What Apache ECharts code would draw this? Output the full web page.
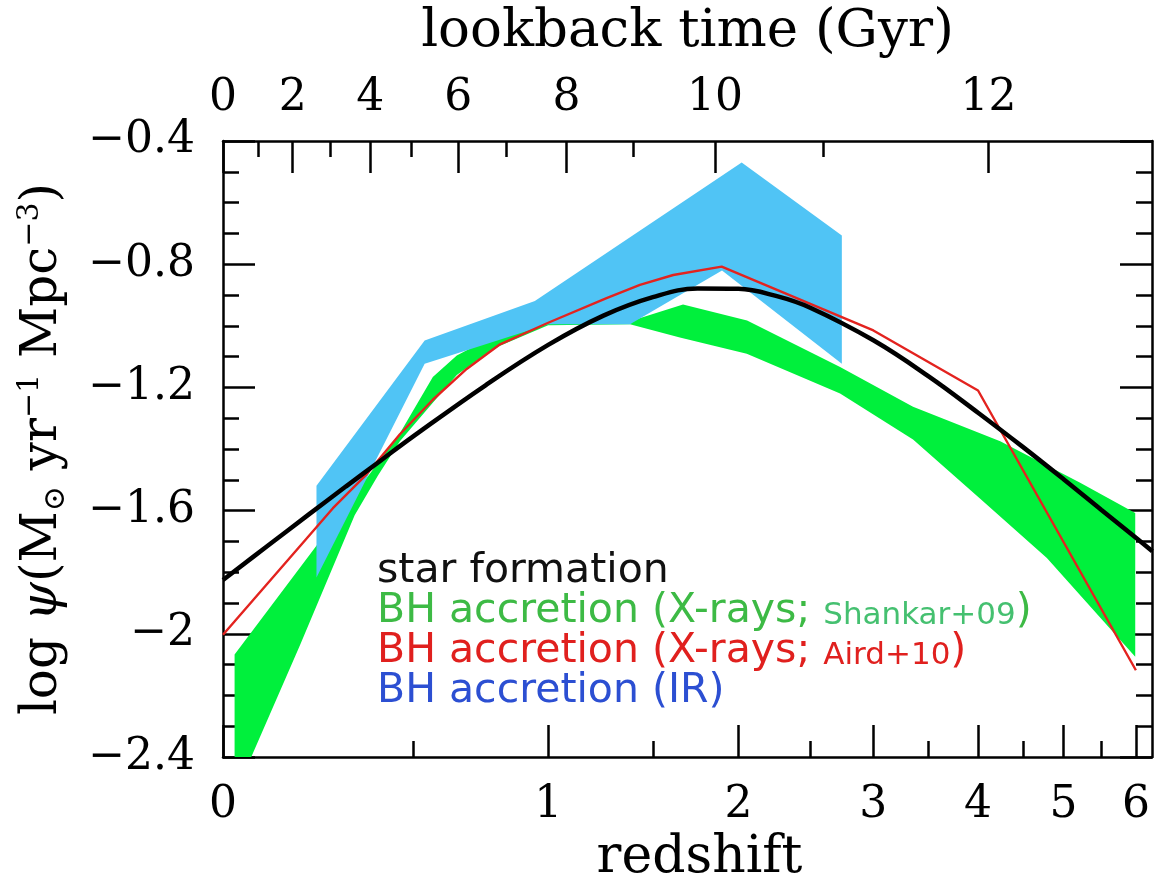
<!DOCTYPE html>
<html>
<head>
<meta charset="utf-8">
<script src="https://cdn.jsdelivr.net/npm/echarts@6/dist/echarts.min.js"></script>
<style>
html,body{margin:0;padding:0;background:#fff;}
#chart{width:1157px;height:889px;}
</style>
</head>
<body>
<div id="chart"></div>
<script>
// ---------- tick definitions ----------
const redshiftTicks = [0, 1, 2, 3, 4, 5, 6];
const redshiftMinorTicks = [0.5, 1.5, 2.5, 3.5, 4.5, 5.5];
const lookbackTickLabels = ['0', '2', '4', '6', '8', '10', '12'];
const lookbackTickZ = [0, 0.160, 0.369, 0.651, 1.080, 1.854, 4.112];
const lookbackMinorTickZ = [0.0775, 0.256, 0.495, 0.830, 1.398, 2.596];
const yTickValues = [-2.4, -2.0, -1.6, -1.2, -0.8, -0.4];
const yTickLabels = ['\u22122.4', '\u22122', '\u22121.6', '\u22121.2', '\u22120.8', '\u22120.4'];

// ---------- star formation (black curve) ----------
const starZ = [0, 0.1, 0.2, 0.3, 0.4, 0.5, 0.75, 1, 1.25, 1.5, 1.75, 2, 2.25, 2.5, 3, 3.5, 4, 4.5, 5, 5.5, 6, 6.25];
const starLogPsi = [-1.825, -1.714, -1.613, -1.521, -1.437, -1.359, -1.193, -1.062, -0.967, -0.907, -0.879, -0.880, -0.903, -0.942, -1.047, -1.164, -1.282, -1.393, -1.498, -1.597, -1.688, -1.732];

// ---------- BH accretion, X-rays, Aird+10 (red line) ----------
const airdZ = [0, 0.264, 0.358, 0.458, 0.564, 0.681, 0.805, 1.0, 1.265, 1.432, 1.611, 1.895, 3.0, 4.0, 6.0];
const airdLogPsi = [-2.003, -1.592, -1.482, -1.352, -1.240, -1.140, -1.060, -0.990, -0.910, -0.867, -0.835, -0.808, -1.015, -1.210, -2.118];

// ---------- BH accretion, X-rays, Shankar+09 (green band) ----------
const shankarUpperZ = [0.025, 0.216, 0.458, 0.564, 0.646, 0.754, 0.965, 1.381, 1.666, 2.056, 2.726, 3.353, 4.242, 5.216, 5.99];
const shankarUpper = [-2.067, -1.721, -1.349, -1.166, -1.096, -1.045, -0.960, -0.985, -0.931, -0.983, -1.134, -1.263, -1.375, -1.509, -1.608];
const shankarLowerZ = [5.99, 4.79, 4.023, 3.353, 2.726, 2.054, 1.648, 1.381, 1.0, 0.805, 0.754, 0.646, 0.564, 0.458, 0.391, 0.324, 0.178, 0.062, 0.025];
const shankarLower = [-2.074, -1.754, -1.561, -1.369, -1.220, -1.091, -1.038, -0.995, -0.998, -1.065, -1.090, -1.160, -1.250, -1.375, -1.487, -1.615, -2.038, -2.400, -2.400];

// ---------- BH accretion, IR (blue band) ----------
const irUpperZ = [0.2205, 0.537, 0.944, 2.021, 2.740];
const irUpper = [-1.519, -1.048, -0.919, -0.470, -0.707];
const irLowerZ = [2.740, 1.897, 1.381, 1.0, 0.537, 0.2205];
const irLower = [-1.123, -0.820, -0.995, -0.995, -1.123, -1.817];

// ---------- helpers ----------
const toX = z => Math.log10(1 + z);
const pairs = (zs, vs) => zs.map((z, i) => [toX(z), vs[i]]);
const nearestIndex = (arr, v) => {
  let best = 0, d = Infinity;
  arr.forEach((a, i) => { const dd = Math.abs(a - v); if (dd < d) { d = dd; best = i; } });
  return best;
};

const SERIF = "'DejaVu Serif', 'Liberation Serif', serif";
const SANS = "'DejaVu Sans', 'Noto Sans', sans-serif";
const X_MAX = 0.86;

function bandSeries(name, upperZ, upper, lowerZ, lower, color, z) {
  const poly = pairs(upperZ, upper).concat(pairs(lowerZ, lower));
  return {
    type: 'custom',
    name: name,
    xAxisIndex: 0,
    yAxisIndex: 0,
    z: z,
    clip: true,
    silent: true,
    data: poly,
    encode: { x: 0, y: 1 },
    renderItem: function (params, api) {
      if (params.dataIndex !== 0) return null;
      const points = poly.map(p => api.coord(p));
      return {
        type: 'polygon',
        shape: { points: points },
        style: { fill: color, stroke: null }
      };
    }
  };
}

const axisLineStyle = { color: '#000', width: 2.5 };
const legendBase = { fontFamily: SANS, fontWeight: 'normal', fontSize: 41, lineHeight: 40, verticalAlign: 'middle' };
const legendSmall = { fontFamily: SANS, fontWeight: 'normal', fontSize: 31, lineHeight: 34, verticalAlign: 'bottom' };

const option = {
  animation: false,
  backgroundColor: '#fff',
  grid: { left: 223, right: 5, top: 141, bottom: 124, containLabel: false },
  title: {
    left: 377,
    top: 551,
    padding: 0,
    text: '{k|star formation}\n' +
          '{g|BH accretion (X-rays; }{gs|Shankar+09}{g|)}\n' +
          '{r|BH accretion (X-rays; }{rs|Aird+10}{r|)}\n' +
          '{b|BH accretion (IR)}',
    textStyle: {
      fontWeight: 'normal',
      rich: {
        k: Object.assign({}, legendBase, { color: '#111111' }),
        g: Object.assign({}, legendBase, { color: '#3dba45' }),
        gs: Object.assign({}, legendSmall, { color: '#45c070' }),
        r: Object.assign({}, legendBase, { color: '#e0201e' }),
        rs: Object.assign({}, legendSmall, { color: '#e0201e' }),
        b: Object.assign({}, legendBase, { color: '#2c4fd2' })
      }
    }
  },
  xAxis: [
    { // bottom: redshift, major ticks + labels
      type: 'value', position: 'bottom', min: 0, max: X_MAX, gridIndex: 0,
      name: 'redshift', nameLocation: 'middle', nameGap: 64,
      nameTextStyle: { fontFamily: SERIF, fontSize: 52, color: '#000', padding: [0, 0, 0, 24] },
      axisLine: { show: true, onZero: false, lineStyle: axisLineStyle },
      axisTick: { show: true, inside: true, length: 32, lineStyle: axisLineStyle, customValues: redshiftTicks.map(toX) },
      axisLabel: {
        show: true, margin: 26, fontFamily: SERIF, fontSize: 44, color: '#000',
        customValues: redshiftTicks.map(toX),
        formatter: v => String(redshiftTicks[nearestIndex(redshiftTicks.map(toX), v)])
      },
      splitLine: { show: false }
    },
    { // bottom: redshift minor ticks
      type: 'value', position: 'bottom', min: 0, max: X_MAX, gridIndex: 0,
      axisLine: { show: false, onZero: false },
      axisTick: { show: true, inside: true, length: 16, lineStyle: axisLineStyle, customValues: redshiftMinorTicks.map(toX) },
      axisLabel: { show: false },
      splitLine: { show: false }
    },
    { // top: lookback time, major ticks + labels
      type: 'value', position: 'top', min: 0, max: X_MAX, gridIndex: 0,
      name: 'lookback time (Gyr)', nameLocation: 'middle', nameGap: 82,
      nameTextStyle: { fontFamily: SERIF, fontSize: 53, color: '#000' },
      axisLine: { show: true, onZero: false, lineStyle: axisLineStyle },
      axisTick: { show: true, inside: true, length: 32, lineStyle: axisLineStyle, customValues: lookbackTickZ.map(toX) },
      axisLabel: {
        show: true, margin: 20, fontFamily: SERIF, fontSize: 44, color: '#000',
        customValues: lookbackTickZ.map(toX),
        formatter: v => lookbackTickLabels[nearestIndex(lookbackTickZ.map(toX), v)]
      },
      splitLine: { show: false }
    },
    { // top: lookback minor ticks
      type: 'value', position: 'top', min: 0, max: X_MAX, gridIndex: 0,
      axisLine: { show: false, onZero: false },
      axisTick: { show: true, inside: true, length: 16, lineStyle: axisLineStyle, customValues: lookbackMinorTickZ.map(toX) },
      axisLabel: { show: false },
      splitLine: { show: false }
    }
  ],
  yAxis: [
    {
      type: 'value', position: 'left', min: -2.4, max: -0.4, interval: 0.4, gridIndex: 0,
      name: '{n|log }{p|\u03C8}{n|(M}{s|\u2299}{n| yr}{u|\u22121}{n| Mpc}{u|\u22123}{n|)}',
      nameLocation: 'middle', nameGap: 152, nameRotate: 90,
      nameTextStyle: {
        rich: {
          n: { fontFamily: SERIF, fontSize: 50, lineHeight: 56, color: '#000', verticalAlign: 'middle' },
          p: { fontFamily: SERIF, fontSize: 50, lineHeight: 56, fontStyle: 'italic', color: '#000', verticalAlign: 'middle' },
          s: { fontFamily: SERIF, fontSize: 30, lineHeight: 27, color: '#000', verticalAlign: 'bottom' },
          u: { fontFamily: SERIF, fontSize: 30, lineHeight: 30, color: '#000', verticalAlign: 'top' }
        }
      },
      axisLine: { show: true, onZero: false, lineStyle: axisLineStyle },
      axisTick: { show: true, inside: true, length: 32, lineStyle: axisLineStyle },
      minorTick: { show: true, splitNumber: 4, length: 16, lineStyle: axisLineStyle },
      axisLabel: {
        show: true, margin: 28, fontFamily: SERIF, fontSize: 44, color: '#000',
        formatter: v => yTickLabels[nearestIndex(yTickValues, v)]
      },
      splitLine: { show: false }
    },
    {
      type: 'value', position: 'right', min: -2.4, max: -0.4, interval: 0.4, gridIndex: 0,
      axisLine: { show: true, onZero: false, lineStyle: axisLineStyle },
      axisTick: { show: true, inside: true, length: 32, lineStyle: axisLineStyle },
      minorTick: { show: true, splitNumber: 4, length: 16, lineStyle: axisLineStyle },
      axisLabel: { show: false },
      splitLine: { show: false }
    }
  ],
  series: [
    bandSeries('BH accretion (X-rays; Shankar+09)', shankarUpperZ, shankarUpper, shankarLowerZ, shankarLower, '#00f03c', 1),
    bandSeries('BH accretion (IR)', irUpperZ, irUpper, irLowerZ, irLower, '#50c4f5', 2),
    {
      type: 'line', name: 'BH accretion (X-rays; Aird+10)', xAxisIndex: 0, yAxisIndex: 0, z: 3,
      data: pairs(airdZ, airdLogPsi), showSymbol: false, symbol: 'none',
      lineStyle: { color: '#e3231f', width: 2.4 }, silent: true
    },
    {
      type: 'line', name: 'star formation', xAxisIndex: 0, yAxisIndex: 0, z: 4,
      data: pairs(starZ, starLogPsi), showSymbol: false, symbol: 'none', smooth: 0.4,
      lineStyle: { color: '#000', width: 4.5 }, silent: true
    }
  ]
};

const chart = echarts.init(document.getElementById('chart'), null, { renderer: 'canvas' });
chart.setOption(option);
</script>
</body>
</html>
